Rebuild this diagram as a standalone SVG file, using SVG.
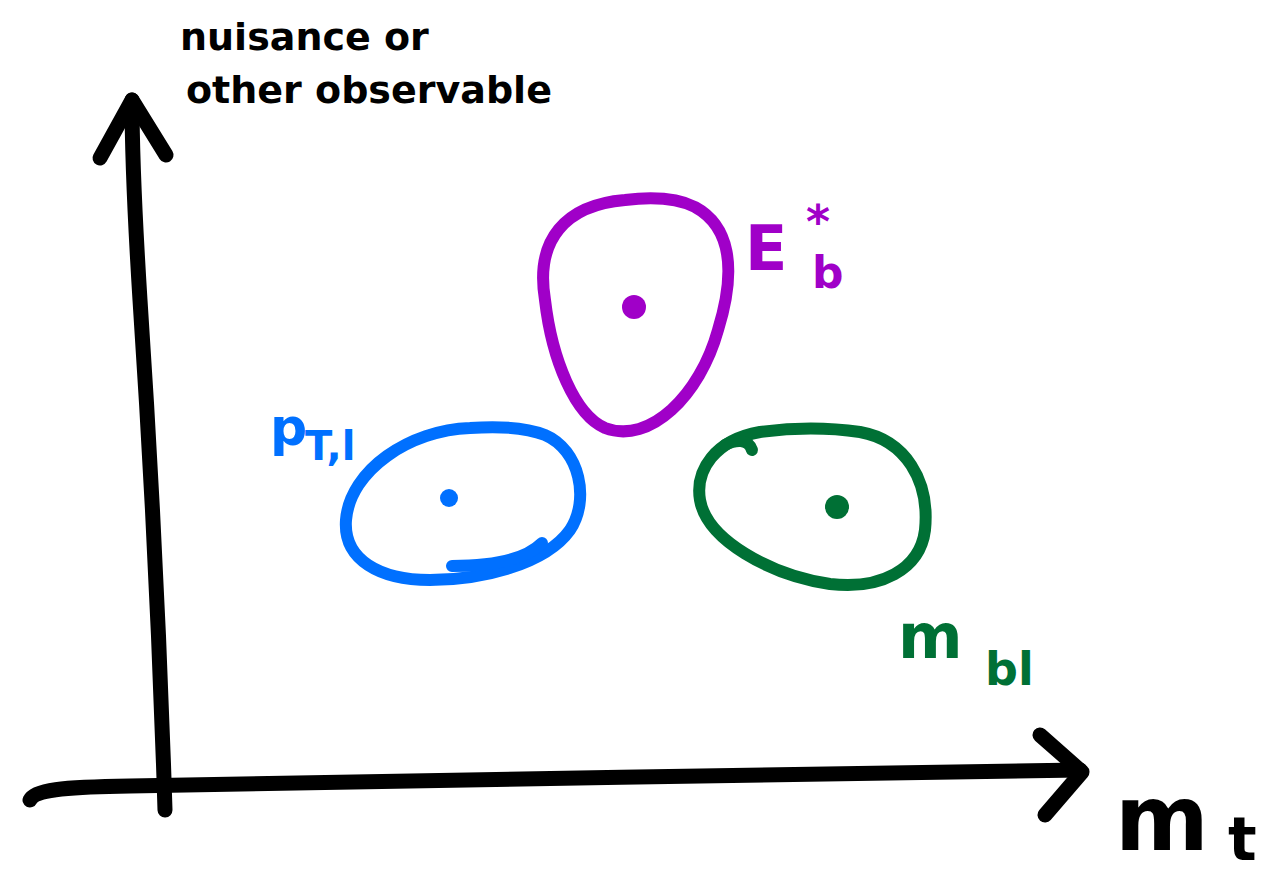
<svg xmlns="http://www.w3.org/2000/svg" width="1285" height="878" viewBox="0 0 1285 878">
<style>
.ax{fill:none;stroke:#000;stroke-width:15;stroke-linecap:round;stroke-linejoin:round}
.blob{fill:none;stroke-width:12;stroke-linecap:round;stroke-linejoin:round}
.t{font-family:"DejaVu Sans",sans-serif;font-weight:bold}
</style>
<rect width="1285" height="878" fill="#fff"/>
<g id="axes" class="connectors">
<path class="ax" d="M165,810 C160,650 150,450 140,300 C135,220 132,150 132,100"/>
<path class="ax" d="M100,158 L132,100 L166,155"/>
<path class="ax" d="M30,800 C35,790 60,787 130,786 C400,783 800,772 1080,770"/>
<path class="ax" d="M1040,735 L1082,772 L1045,815"/>
</g>
<g id="ylabel">
<text class="t" x="180" y="50" font-size="38">nuisance  or</text>
<text class="t" x="186" y="103" font-size="38">other  observable</text>
</g>
<g id="Eb">
<path class="blob" stroke="#A000C8" d="M625,200 C565,205 535,240 545,300 C552,360 575,415 605,428 C650,445 700,395 718,330 C738,265 728,225 695,207 C675,197 650,197 625,200 Z"/>
<circle cx="634" cy="307" r="12" fill="#A000C8"/>
<text class="t" x="745" y="270" font-size="62" fill="#A000C8">E</text>
<text class="t" x="806" y="238" font-size="46" fill="#A000C8">*</text>
<text class="t" x="812" y="288" font-size="44" fill="#A000C8">b</text>
</g>
<g id="ptl">
<path class="blob" stroke="#0070FF" d="M470,428 C410,430 350,470 346,520 C343,560 380,580 430,580 C480,580 545,565 570,530 C590,500 580,450 545,435 C525,427 500,426 470,428 Z"/>
<path class="blob" stroke="#0070FF" d="M452,566 C490,566 525,560 542,543"/>
<circle cx="449" cy="498" r="9" fill="#0070FF"/>
<text class="t" x="270" y="445" font-size="52" fill="#0070FF">p</text>
<text class="t" x="305" y="460" font-size="40" fill="#0070FF">T,l</text>
</g>
<g id="mbl">
<path class="blob" stroke="#007035" d="M760,432 C715,440 695,470 700,500 C707,540 770,575 830,584 C880,590 920,570 925,530 C930,480 905,440 860,432 C825,427 790,428 760,432 Z"/>
<path class="blob" stroke="#007035" d="M725,445 C735,440 748,438 752,450"/>
<circle cx="837" cy="507" r="12" fill="#007035"/>
<text class="t" x="898" y="658" font-size="62" fill="#007035">m</text>
<text class="t" x="985" y="685" font-size="46" fill="#007035">bl</text>
</g>
<g id="mt">
<text class="t" x="1115" y="850" font-size="90">m</text>
<text class="t" x="1228" y="860" font-size="60">t</text>
</g>
</svg>
